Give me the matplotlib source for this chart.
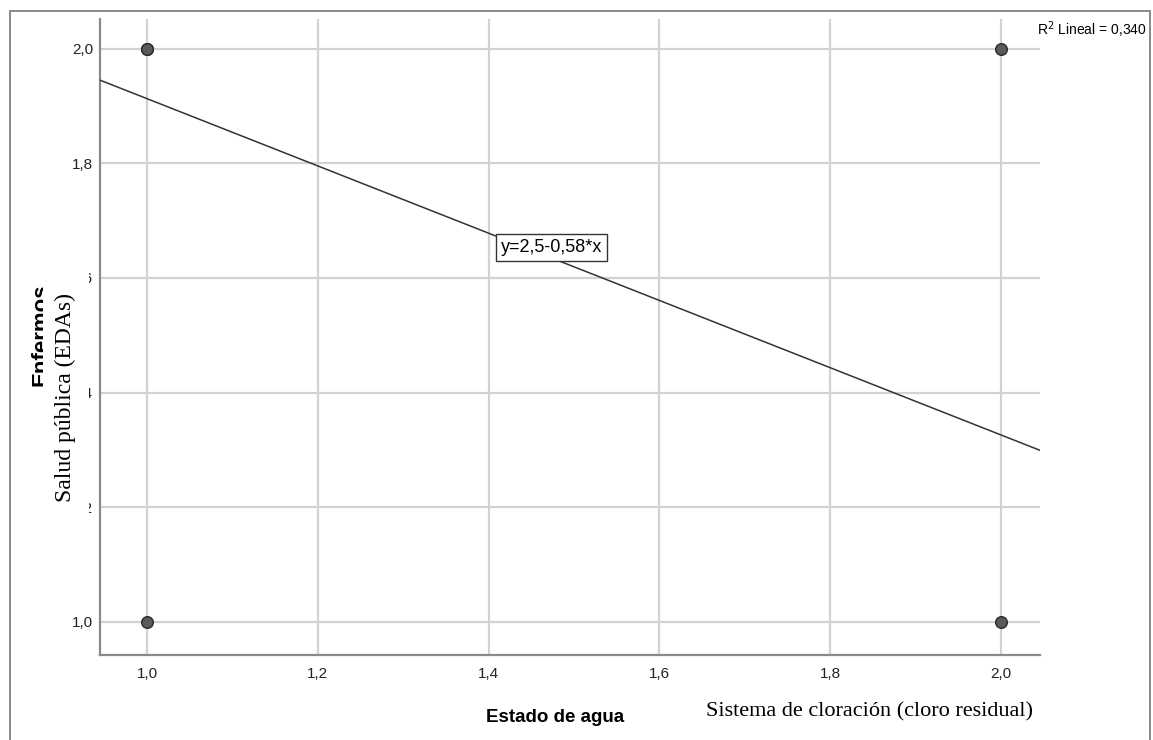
import numpy as np
import matplotlib.pyplot as plt
from matplotlib.lines import Line2D
from matplotlib.patches import Rectangle

# data
estado_agua = [1.0, 1.0, 1.0, 2.0, 2.0]
enfermos = [2.0, 2.0, 1.0, 2.0, 1.0]
intercept, slope = 2.5, -0.587
r2_text = "R$^2$ Lineal = 0,340"
eq_text = "y=2,5-0,58*x"
ticks = [1.0, 1.2, 1.4, 1.6, 1.8, 2.0]
tick_labels = ["1,0", "1,2", "1,4", "1,6", "1,8", "2,0"]

plt.rcParams['font.family'] = ['Liberation Sans', 'DejaVu Sans']

W, H = 1153, 740
fig = plt.figure(figsize=(W / 100, H / 100), dpi=100)
ax = fig.add_axes([100/W, 85/H, 940/W, 636/H])

xmin, xmax = 0.945, 2.0456
ymin, ymax = 0.942, 2.052
ax.set(xlim=(xmin, xmax), ylim=(ymin, ymax))

# grid
ax.set_xticks(ticks)
ax.set_yticks(ticks)
ax.set_xticklabels(tick_labels, fontsize=11, color='#222222')
ax.set_yticklabels(tick_labels, fontsize=11, color='#222222')
ax.tick_params(axis='x', length=0, pad=9)
ax.tick_params(axis='y', length=0, pad=5)
ax.grid(color='#d2d2d2', linewidth=1.6)
ax.set_axisbelow(True)

for s in ['top', 'right']:
    ax.spines[s].set_visible(False)
for s in ['left', 'bottom']:
    ax.spines[s].set_color('#8a8a8a')
    ax.spines[s].set_linewidth(1.6)

# fit line
x = np.array([xmin, xmax])
ax.plot(x, intercept + slope * x, color='#333333', linewidth=1.1, zorder=3)

# points
ax.scatter(estado_agua, enfermos, s=70, color='#5a5a5a', edgecolors='#2a2a2a',
           linewidths=1.0, zorder=4)

ax.text(1.474, 1.653, eq_text, fontsize=13, ha='center', va='center', zorder=5,
        bbox=dict(facecolor='white', edgecolor='#333333', linewidth=1, pad=3.5))

# labels
ax.set_ylabel("Enfermos", fontsize=16, fontweight='bold')
ax.set_xlabel("Estado de agua", fontsize=13.5, fontweight='bold')
ax.xaxis.set_label_coords((555 - 100) / 940, -(717 - 655) / 636)
ax.yaxis.set_label_coords(-(100 - 41) / 940, (655 - 335) / 636)
ax.yaxis.label.set_va('center')
ax.xaxis.label.set_va('center')

fig.text(1037/W, 1 - 30/H, r2_text, fontsize=10, ha='left', va='center')

# white patch over the old y label, with the serif label on top
fig.add_artist(Rectangle((43/W, 1 - 518/H), 46/W, 250/H, transform=fig.transFigure,
                         facecolor='white', edgecolor='none', zorder=10))
fig.text(65/W, 1 - 398/H, "Salud pública (EDAs)", rotation=90,
         family='Liberation Serif', fontsize=17, ha='center', va='center', zorder=11)
fig.text(870/W, 1 - 712/H, "Sistema de cloración (cloro residual)",
         family='Liberation Serif', fontsize=16, ha='center', va='center')

# outer frame
frame = dict(color='#8a8a8a', linewidth=1.4, transform=fig.transFigure)
fig.add_artist(Line2D([10/W, 10/W], [0, 1 - 11/H], **frame))
fig.add_artist(Line2D([10/W, 1150/W], [1 - 11/H, 1 - 11/H], **frame))
fig.add_artist(Line2D([1150/W, 1150/W], [0, 1 - 11/H], **frame))

fig.savefig("out.png", dpi=100)
